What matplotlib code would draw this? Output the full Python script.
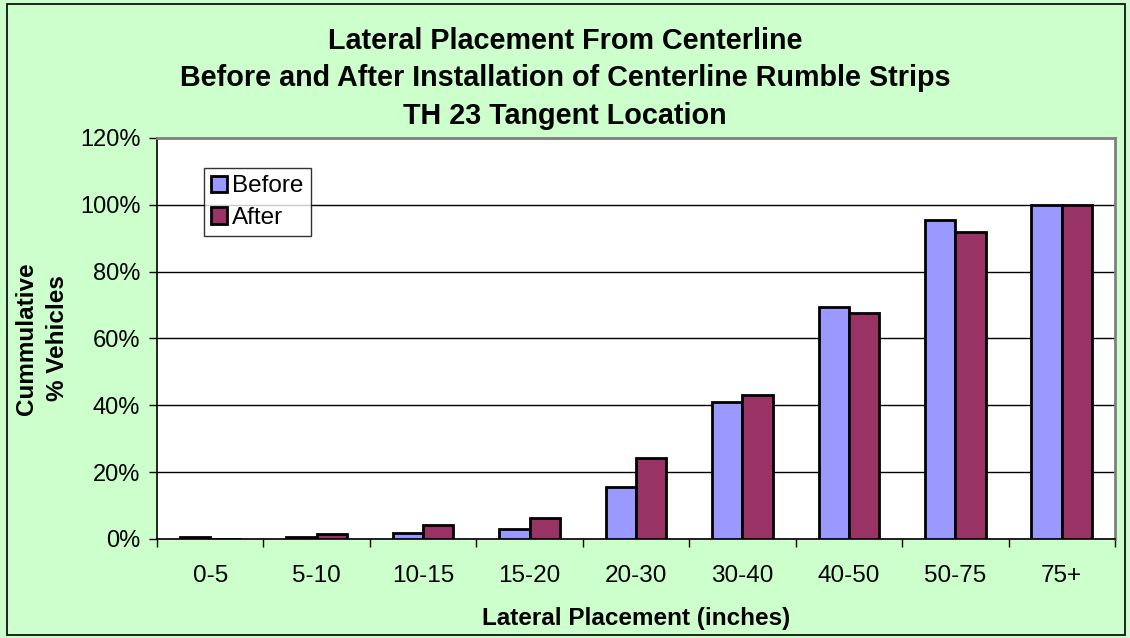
import numpy as np
import matplotlib.pyplot as plt
from matplotlib.patches import Rectangle
from matplotlib.ticker import FixedLocator, NullFormatter

plt.rcParams['font.family'] = ['Liberation Sans', 'DejaVu Sans']

# Data
categories = ["0-5", "5-10", "10-15", "15-20", "20-30", "30-40", "40-50", "50-75", "75+"]
before = [0.6, 0.5, 1.9, 3.0, 15.7, 40.9, 69.3, 95.6, 100.0]
after = [0.0, 1.4, 4.1, 6.4, 24.1, 43.2, 67.5, 92.0, 100.0]

fig = plt.figure(figsize=(11.3, 6.38), dpi=100)
fig.patch.set_facecolor("#CCFFCC")
fig.patches.append(Rectangle((0.006, 0.004), 0.99, 0.99, transform=fig.transFigure,
                             fill=False, edgecolor="black", linewidth=1.2))

ax = fig.add_axes([0.1389, 0.1552, 0.8478, 0.6285])
ax.set_facecolor("white")

x = np.arange(len(categories))
w = 0.285
ax.bar(x - w / 2, before, w, color="#9999FF", edgecolor="black", linewidth=2, label="Before", zorder=3)
ax.bar(x + w / 2, after, w, color="#993366", edgecolor="black", linewidth=2, label="After", zorder=3)

ax.set_xlim(-0.5, len(categories) - 0.5)
ax.set_ylim(0, 120)
ax.set_yticks(range(0, 121, 20))
ax.set_yticklabels([f"{v}%" for v in range(0, 121, 20)], fontsize=17)
ax.yaxis.grid(True, color="black", linewidth=1)
ax.set_axisbelow(True)

ax.set_xticks(x)
ax.set_xticklabels(categories, fontsize=17.5)
ax.tick_params(axis="x", which="major", length=0, pad=19)
ax.xaxis.set_minor_locator(FixedLocator(np.arange(-0.5, len(categories), 1)))
ax.xaxis.set_minor_formatter(NullFormatter())
ax.tick_params(axis="x", which="minor", length=6, width=1)
ax.tick_params(axis="y", length=6, width=1, pad=6)

ax.spines["left"].set_color("black")
ax.spines["bottom"].set_color("black")
ax.spines["left"].set_linewidth(1.2)
ax.spines["bottom"].set_linewidth(1.2)
ax.spines["top"].set_color("#808080")
ax.spines["right"].set_color("#808080")
ax.spines["top"].set_linewidth(2)
ax.spines["right"].set_linewidth(2)

ax.set_xlabel("Lateral Placement (inches)", fontsize=17.5, fontweight="bold", labelpad=14)
ax.set_ylabel("Cummulative\n% Vehicles", fontsize=17.5, fontweight="bold", labelpad=8,
              linespacing=1.4)

fig.text(0.5, 0.877, "Lateral Placement From Centerline\n"
         "Before and After Installation of Centerline Rumble Strips\n"
         "TH 23 Tangent Location",
         ha="center", va="center", fontsize=20.7, fontweight="bold", linespacing=1.42)

leg = ax.legend(loc="upper left", bbox_to_anchor=(0.049, 0.925), fontsize=17.5,
                frameon=True, fancybox=False, edgecolor="black", handlelength=0.65,
                handleheight=0.65, handletextpad=0.2, borderpad=0.3, labelspacing=0.4,
                borderaxespad=0)
leg.get_frame().set_linewidth(1)

fig.savefig("out.png", dpi=100, facecolor=fig.get_facecolor())
